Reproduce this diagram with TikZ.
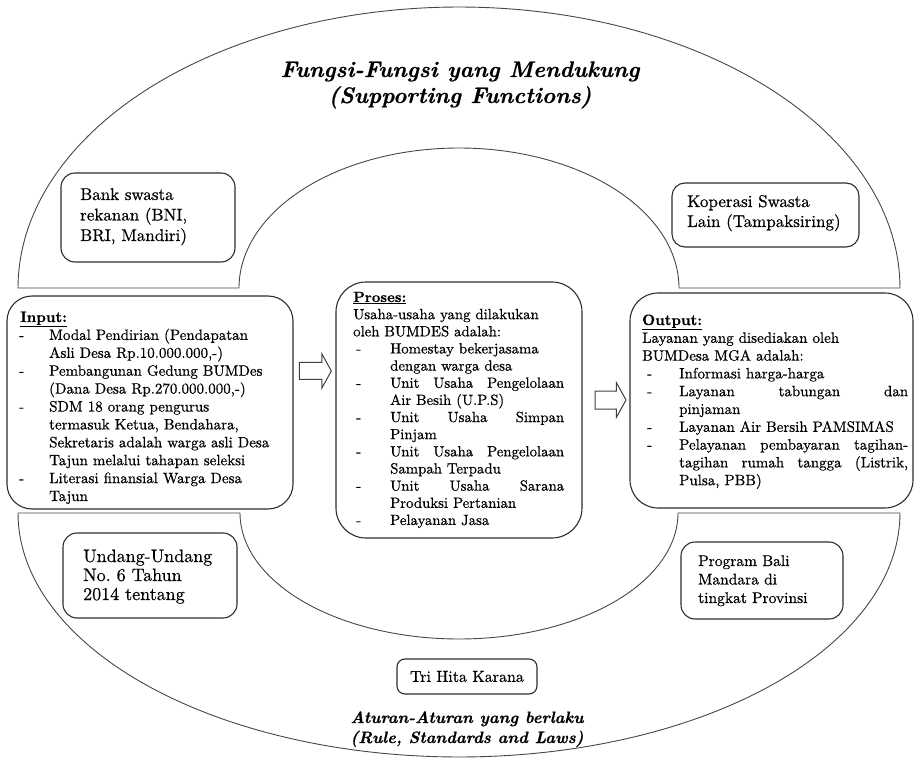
\documentclass[tikz,border=0pt]{standalone}
\usepackage{fontspec}
\setmainfont{lmroman10-regular.otf}[
  BoldFont=lmroman10-bold.otf,
  ItalicFont=lmroman10-italic.otf,
  BoldItalicFont=lmroman10-bolditalic.otf,
  UprightFeatures={FakeBold=0.6},
  ItalicFeatures={FakeBold=0.4},
  BoldFeatures={FakeBold=0.4},
  BoldItalicFeatures={FakeBold=0.6}]
\usetikzlibrary{shapes.arrows}
\newcommand{\dashitem}[3]{\par\noindent\hangindent=#1\hangafter=1\makebox[#1][l]{\hspace{#2}-}#3\par}
\frenchspacing
\begin{document}
\begin{tikzpicture}[x=1pt,y=-1pt,
  arcline/.style={draw=black!72, line width=0.9pt},
  rbox/.style={draw=black!82, line width=1.1pt, fill=white, inner sep=0pt},
  btext/.style={anchor=base west, inner sep=0pt, text width=#1, align=justify,
     execute at begin node={\parindent=0pt\parskip=0pt\tolerance=10000\hbadness=10000\hyphenpenalty=10000}},
  lbl/.style={anchor=base west, inner sep=0pt, text width=#1, align=left},
  title/.style={anchor=base, inner sep=0pt, font={\fontsize{22.5}{26}\selectfont\bfseries\itshape}},
  subtitle/.style={anchor=base, inner sep=0pt, font={\fontsize{16.5}{20}\selectfont\bfseries\itshape}},
  blockarrow/.style={single arrow, draw=black!75, line width=1pt, fill=white, inner sep=0pt,
     single arrow tip angle=122, single arrow head indent=0pt}
]
\useasboundingbox (0,0) rectangle (916,759);

% top half-annulus (supporting functions)
\draw[arcline] plot[domain=0:180,samples=150] ({459-441*cos(\x)},{288-281*sin(\x)})
  -- (679,288) -- plot[domain=0:180,samples=150] ({459+220*cos(\x)},{288-140*sin(\x)}) -- cycle;
% bottom half-annulus (rules)
\draw[arcline] plot[domain=0:180,samples=150] ({459+441*cos(\x)},{513+244*sin(\x)})
  -- (240,513) -- plot[domain=0:180,samples=150] ({459-219*cos(\x)},{513+126*sin(\x)}) -- cycle;

% titles
\node[title] (t1) at (460,77) {Fungsi-Fungsi yang Mendukung};
\node[title] (t2) at (460,103) {(Supporting Functions)};
\node[subtitle] (b1) at (467,723) {Aturan-Aturan yang berlaku};
\node[subtitle] (b2) at (467,743) {(Rule, Standards and Laws)};

% outer label boxes
\node[rbox, minimum width=174, minimum height=89, rounded corners=14] (bank) at (148,217.5) {};
\node[lbl=150pt, font={\fontsize{17}{20.5}\selectfont}] (banktxt) at (80,200) {Bank swasta\\rekanan (BNI,\\BRI, Mandiri)};

\node[rbox, minimum width=187, minimum height=64, rounded corners=13] (kop) at (765.5,215) {};
\node[lbl=170pt, font={\fontsize{17}{20}\selectfont}] (koptxt) at (687,207) {Koperasi Swasta\\Lain (Tampaksiring)};

\node[rbox, minimum width=174, minimum height=85, rounded corners=14] (uu) at (150,575.5) {};
\node[lbl=150pt, font={\fontsize{18}{19}\selectfont}] (uutxt) at (83,562) {Undang-Undang\\No. 6 Tahun\\2014 tentang};

\node[rbox, minimum width=162, minimum height=77, rounded corners=14] (bali) at (762,580.5) {};
\node[lbl=140pt, font={\fontsize{15.5}{18.5}\selectfont}] (balitxt) at (698,566) {Program Bali\\Mandara di\\tingkat Provinsi};

\node[rbox, minimum width=140, minimum height=35, rounded corners=8, font={\fontsize{16}{18}\selectfont}] (tri) at (467,676.5) {Tri Hita Karana};

% main boxes
\node[rbox, minimum width=286, minimum height=213, rounded corners=25] (input) at (150,402.5) {};
\node[rbox, minimum width=246, minimum height=256, rounded corners=30] (proses) at (459,410) {};
\node[rbox, minimum width=283, minimum height=215, rounded corners=28] (output) at (771.5,400.5) {};

\node[btext=272pt, align=left, font={\fontsize{15}{17.9}\selectfont}] (inputtxt) at (20,322) {%
\underline{\textbf{Input:}}\par
\dashitem{29pt}{-1pt}{Modal Pendirian (Pendapatan\newline Asli Desa Rp.10.000.000,-)}
\dashitem{29pt}{-1pt}{Pembangunan Gedung BUMDes\newline (Dana Desa Rp.270.000.000,-)}
\dashitem{29pt}{-1pt}{SDM 18 orang pengurus\newline termasuk Ketua, Bendahara,\newline Sekretaris adalah warga asli Desa\newline Tajun melalui tahapan seleksi}
\dashitem{29pt}{-1pt}{Literasi finansial Warga Desa\newline Tajun}};

\node[btext=211pt, font={\fontsize{14.8}{17.15}\selectfont}] (prosestxt) at (353,302) {%
\underline{\textbf{Proses:}}\par
\noindent Usaha-usaha yang dilakukan\newline oleh BUMDES adalah:\par
\dashitem{37pt}{3pt}{Homestay bekerjasama\newline dengan warga desa}
\dashitem{37pt}{3pt}{Unit Usaha Pengelolaan\linebreak Air Besih (U.P.S)}
\dashitem{37pt}{3pt}{Unit Usaha Simpan\linebreak Pinjam}
\dashitem{37pt}{3pt}{Unit Usaha Pengelolaan\linebreak Sampah Terpadu}
\dashitem{37pt}{3pt}{Unit Usaha Sarana\linebreak Produksi Pertanian}
\dashitem{37pt}{3pt}{Pelayanan Jasa}};

\node[btext=266pt, font={\fontsize{15}{17.8}\selectfont}] (outputtxt) at (642,325) {%
\underline{\textbf{Output:}}\par
\noindent Layanan yang disediakan oleh\newline BUMDesa MGA adalah:\par
\dashitem{37pt}{5pt}{Informasi harga-harga}
\dashitem{37pt}{5pt}{Layanan tabungan dan\linebreak pinjaman}
\dashitem{37pt}{5pt}{Layanan Air Bersih PAMSIMAS}
\dashitem{37pt}{5pt}{Pelayanan pembayaran tagihan-\linebreak tagihan rumah tangga (Listrik,\linebreak Pulsa, PBB)}};

% block arrows
\node[blockarrow, minimum height=32, minimum width=33, single arrow head extend=8.5pt, inner ysep=8pt] (a1) at (313,371) {};
\node[blockarrow, minimum height=31, minimum width=34, single arrow head extend=8.5pt, inner ysep=8.5pt] (a2) at (608,400) {};
\end{tikzpicture}
\end{document}
